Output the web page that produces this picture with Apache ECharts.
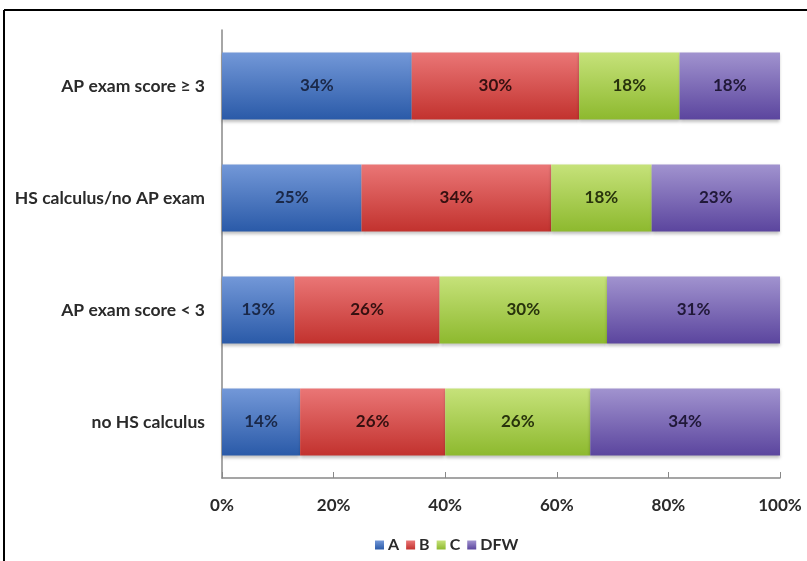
<!DOCTYPE html>
<html><head><meta charset="utf-8">
<script src="https://cdn.jsdelivr.net/npm/echarts@6/dist/echarts.min.js"></script>
<style>html,body{margin:0;padding:0;background:#fff}#c{width:807px;height:561px}</style>
</head><body><div id="c"></div>
<script>
const categories = ['AP exam score ≥ 3', 'HS calculus/no AP exam', 'AP exam score < 3', 'no HS calculus'];
const seriesNames = ['A', 'B', 'C', 'DFW'];
const valuesA = [34, 25, 13, 14];
const valuesB = [30, 34, 26, 26];
const valuesC = [18, 18, 30, 26];
const valuesDFW = [18, 23, 31, 34];
const xTicks = [0, 20, 40, 60, 80, 100];

const colorStops = [
  ['#7398d8', '#2a5aa8'],
  ['#ea7676', '#c2322e'],
  ['#c6e27a', '#8db92e'],
  ['#a193cf', '#5b459e']
];
const labelColors = ['#1a2848', '#351010', '#28330c', '#201838'];
const allValues = [valuesA, valuesB, valuesC, valuesDFW];
const font = 'Lato, "Open Sans", sans-serif';

const chart = echarts.init(document.getElementById('c'), null, {renderer: 'canvas'});
chart.setOption({
  animation: false,
  grid: {left: 222, right: 27, top: 30, bottom: 83},
  xAxis: {
    type: 'value', min: xTicks[0], max: xTicks[xTicks.length - 1], interval: 20,
    axisLine: {show: true, lineStyle: {color: '#888', width: 1.5}},
    axisTick: {show: true, inside: true, length: 6, lineStyle: {color: '#888'}},
    splitLine: {show: false},
    axisLabel: {formatter: v => v + '%', margin: 19, fontSize: 17, fontWeight: 'bold', color: '#2a2a2a', fontFamily: font}
  },
  yAxis: {
    type: 'category', data: categories, inverse: true,
    axisLine: {show: true, lineStyle: {color: '#888', width: 1.5}},
    axisTick: {show: false},
    axisLabel: {fontSize: 17.5, fontWeight: 'bold', color: '#2a2a2a', margin: 17, fontFamily: font}
  },
  legend: {
    data: seriesNames, left: 370, top: 532, itemWidth: 9, itemHeight: 9, itemGap: 7,
    icon: 'rect',
    textStyle: {fontSize: 16, fontWeight: 'bold', color: '#2a2a2a', fontFamily: font, padding: [0, 0, 0, -1]}
  },
  graphic: [
    {type: 'line', shape: {x1: 4, y1: 10, x2: 807, y2: 10}, style: {stroke: '#000', lineWidth: 2}},
    {type: 'line', shape: {x1: 4, y1: 10, x2: 4, y2: 561}, style: {stroke: '#000', lineWidth: 2}}
  ],
  series: seriesNames.map((name, i) => ({
    name, type: 'bar', stack: 'total', barWidth: '60%',
    data: allValues[i],
    itemStyle: {
      color: new echarts.graphic.LinearGradient(0, 0, 0, 1, [
        {offset: 0, color: colorStops[i][0]},
        {offset: 1, color: colorStops[i][1]}
      ]),
      shadowBlur: 3, shadowColor: 'rgba(0,0,0,0.25)', shadowOffsetY: 2
    },
    label: {show: true, position: 'inside', formatter: p => p.value + '%', fontSize: 17, fontWeight: 'bold',
      color: labelColors[i], fontFamily: font}
  }))
});
</script></body></html>
